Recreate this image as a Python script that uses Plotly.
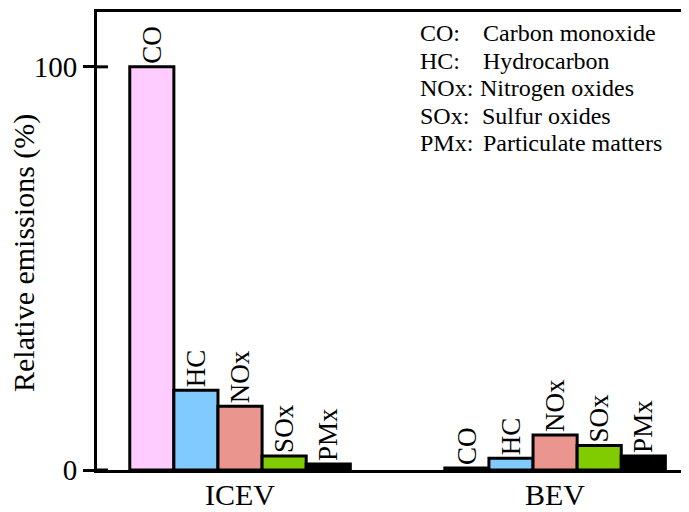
import plotly.graph_objects as go

groups = ["ICEV", "BEV"]
pollutants = ["CO", "HC", "NOx", "SOx", "PMx"]
values = {
    "CO": [100, 0.5],
    "HC": [19.8, 2.9],
    "NOx": [15.8, 8.7],
    "SOx": [3.5, 6.1],
    "PMx": [1.5, 3.5],
}
colors = {
    "CO": "#FFCCFF",
    "HC": "#80CAFF",
    "NOx": "#EA968E",
    "SOx": "#80CC00",
    "PMx": "#000000",
}
legend_abbr = ["CO:", "HC:", "NOx:", "SOx:", "PMx:"]
legend_desc = ["Carbon monoxide", "Hydrocarbon", "Nitrogen oxides", "Sulfur oxides", "Particulate matters"]
ytick_vals = [0, 100]
y_title = "Relative emissions (%)"

FONT = "Liberation Serif"

fig = go.Figure()
for p in pollutants:
    fig.add_trace(go.Bar(
        x=groups, y=values[p], name=p,
        marker=dict(color=colors[p], line=dict(color="black", width=3)),
        text=[p, p], textposition="outside", textangle=-90,
        constraintext="none", cliponaxis=False,
        textfont=dict(family=FONT, size=27, color="black"),
    ))

# page body has an 8px margin, so the figure is drawn 8px smaller
OFF = 8
W, H = 689 - OFF, 512 - OFF
PLOT_L, PLOT_T, PLOT_B = 97, 12, 470   # target positions in window pixels
plot_w = 689 - PLOT_L
plot_h = PLOT_B - PLOT_T
L = PLOT_L - OFF
T = PLOT_T - OFF
B = H - T - plot_h

def py(ypx):
    return (PLOT_B - ypx) / plot_h

def px(xpx):
    return (xpx - PLOT_L) / plot_w

anns = []
desc_x = [481, 481, 478, 480, 481]
line_y = [32.5, 60, 87.5, 115, 142.5]
for i in range(5):
    anns.append(dict(x=px(418), y=py(line_y[i]), xref="paper", yref="paper",
                     text=legend_abbr[i], showarrow=False, xanchor="left", yanchor="middle",
                     height=27, valign="middle",
                     font=dict(family=FONT, size=24, color="black")))
    anns.append(dict(x=px(desc_x[i]), y=py(line_y[i]), xref="paper", yref="paper",
                     text=legend_desc[i], showarrow=False, xanchor="left", yanchor="middle",
                     height=27, valign="middle",
                     font=dict(family=FONT, size=24, color="black")))

anns.append(dict(x=px(24), y=py(253), xref="paper", yref="paper", text=y_title,
                 textangle=-90, showarrow=False, xanchor="center", yanchor="middle",
                 font=dict(family=FONT, size=30, color="black")))

for g in groups:
    anns.append(dict(x=g, y=py(494), xref="x", yref="paper", text=g,
                     showarrow=False, xanchor="center", yanchor="middle",
                     height=32, valign="middle",
                     font=dict(family=FONT, size=30, color="black")))

shapes = []
for v in ytick_vals:
    shapes.append(dict(type="line", xref="paper", yref="y", x0=0, x1=11 / plot_w, y0=v, y1=v,
                       line=dict(color="black", width=3)))

fig.update_layout(
    width=W, height=H,
    margin=dict(l=L, r=0, t=T, b=B, pad=0, autoexpand=False),
    paper_bgcolor="white", plot_bgcolor="white",
    barmode="group", bargap=0.30, bargroupgap=0,
    showlegend=False,
    font=dict(family=FONT, color="black"),
    annotations=anns,
    shapes=shapes,
    xaxis=dict(
        type="category", range=[-0.454, 1.425], automargin=False,
        showline=True, linecolor="black", linewidth=3, mirror=True,
        showgrid=False, zeroline=False, ticks="", showticklabels=False,
    ),
    yaxis=dict(
        range=[0, 113.6], tickvals=ytick_vals, automargin=False,
        showline=True, linecolor="black", linewidth=3,
        showgrid=False, zeroline=False,
        ticks="outside", ticklen=11, tickwidth=3, tickcolor="black",
        tickfont=dict(family=FONT, size=29, color="black"),
    ),
)

fig.write_html("out.html")
